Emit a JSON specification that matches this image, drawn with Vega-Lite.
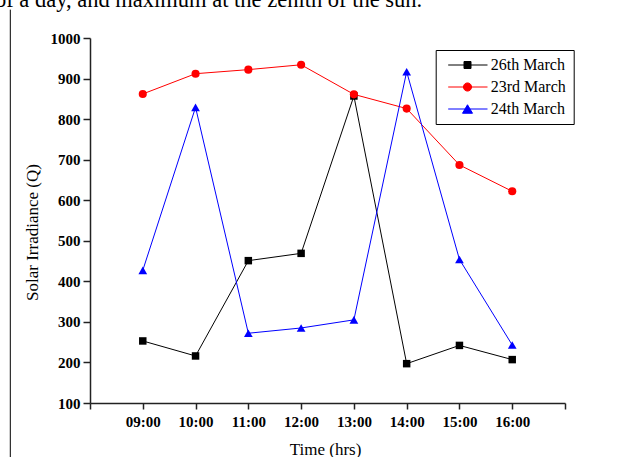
{
  "$schema": "https://vega.github.io/schema/vega-lite/v6.json",
  "width": 475,
  "height": 365,
  "autosize": {"type": "none"},
  "padding": {"left": 90, "top": 38, "right": 55, "bottom": 54},
  "background": "white",
  "config": {"view": {"stroke": null}, "font": "Liberation Serif"},
  "title": {
    "text": "of a day, and maximum at the zenith of the sun.",
    "anchor": "start",
    "frame": "group",
    "dx": -95,
    "dy": 21,
    "offset": 1,
    "baseline": "alphabetic",
    "font": "Liberation Serif",
    "fontSize": 22.5,
    "fontWeight": "normal",
    "color": "black"
  },
  "data": {
    "values": [
      {"time": 9, "irr": 253, "series": "26th March"},
      {"time": 10, "irr": 216, "series": "26th March"},
      {"time": 11, "irr": 451, "series": "26th March"},
      {"time": 12, "irr": 469, "series": "26th March"},
      {"time": 13, "irr": 857, "series": "26th March"},
      {"time": 14, "irr": 197, "series": "26th March"},
      {"time": 15, "irr": 242, "series": "26th March"},
      {"time": 16, "irr": 207, "series": "26th March"},
      {"time": 9, "irr": 862, "series": "23rd March"},
      {"time": 10, "irr": 912, "series": "23rd March"},
      {"time": 11, "irr": 922, "series": "23rd March"},
      {"time": 12, "irr": 934, "series": "23rd March"},
      {"time": 13, "irr": 861, "series": "23rd March"},
      {"time": 14, "irr": 826, "series": "23rd March"},
      {"time": 15, "irr": 687, "series": "23rd March"},
      {"time": 16, "irr": 622, "series": "23rd March"},
      {"time": 9, "irr": 427, "series": "24th March"},
      {"time": 10, "irr": 829, "series": "24th March"},
      {"time": 11, "irr": 272, "series": "24th March"},
      {"time": 12, "irr": 285, "series": "24th March"},
      {"time": 13, "irr": 305, "series": "24th March"},
      {"time": 14, "irr": 917, "series": "24th March"},
      {"time": 15, "irr": 454, "series": "24th March"},
      {"time": 16, "irr": 243, "series": "24th March"}
    ]
  },
  "layer": [
    {
      "mark": {"type": "line", "strokeWidth": 1},
      "encoding": {
        "x": {
          "field": "time",
          "type": "quantitative",
          "title": "Time (hrs)",
          "scale": {"domain": [8, 17], "nice": false, "zero": false},
          "axis": {
            "values": [8, 8.5, 9, 9.5, 10, 10.5, 11, 11.5, 12, 12.5, 13, 13.5, 14, 14.5, 15, 15.5, 16, 16.5, 17],
            "labelExpr": "datum.value >= 9 && datum.value <= 16 && datum.value % 1 == 0 ? (datum.value < 10 ? '0' : '') + datum.value + ':00' : ''",
            "tickSize": {"expr": "datum.value % 1 == 0 ? 6 : 3"},
            "labelFont": "Liberation Serif",
            "labelFontWeight": "bold",
            "labelFontSize": 15,
            "labelColor": "black",
            "labelPadding": 5,
            "labelFlush": false,
            "labelOverlap": false,
            "domainColor": "#222222",
            "domainWidth": 1.5,
            "tickColor": "#222222",
            "tickWidth": 1.5,
            "grid": false,
            "titleFont": "Liberation Serif",
            "titleFontSize": 17,
            "titleFontWeight": "normal",
            "titleColor": "black",
            "titleX": 235,
            "titleY": 51,
            "titleAlign": "center",
            "titleBaseline": "alphabetic"
          }
        },
        "y": {
          "field": "irr",
          "type": "quantitative",
          "title": "Solar Irradiance (Q)",
          "scale": {"domain": [100, 1000], "nice": false, "zero": false},
          "axis": {
            "values": [100, 150, 200, 250, 300, 350, 400, 450, 500, 550, 600, 650, 700, 750, 800, 850, 900, 950, 1000],
            "labelExpr": "datum.value % 100 == 0 ? datum.label : ''",
            "tickSize": {"expr": "datum.value % 100 == 0 ? 7 : 3.5"},
            "format": "d",
            "labelFont": "Liberation Serif",
            "labelFontWeight": "bold",
            "labelFontSize": 15,
            "labelColor": "black",
            "labelPadding": 3,
            "labelFlush": false,
            "labelOverlap": false,
            "domainColor": "#222222",
            "domainWidth": 1.5,
            "tickColor": "#222222",
            "tickWidth": 1.5,
            "grid": false,
            "titleFont": "Liberation Serif",
            "titleFontSize": 17,
            "titleFontWeight": "normal",
            "titleColor": "black",
            "titleAngle": -90,
            "titleX": -58,
            "titleY": 194,
            "titleAlign": "center",
            "titleBaseline": "middle"
          }
        },
        "color": {
          "field": "series",
          "type": "nominal",
          "sort": ["26th March", "23rd March", "24th March"],
          "scale": {"range": ["#000000", "#FF0000", "#0000FF"]},
          "legend": {
            "title": null,
            "orient": "none",
            "legendX": 345.7,
            "legendY": 12,
            "strokeColor": "black",
            "fillColor": "white",
            "padding": 7,
            "labelFont": "Liberation Serif",
            "labelFontSize": 16,
            "labelColor": "black",
            "labelOffset": 32,
            "symbolSize": 100,
            "symbolStrokeWidth": 1,
            "symbolOpacity": 1,
            "rowPadding": 6,
            "encode": {
              "symbols": {
                "update": {
                  "shape": {"signal": "datum.value === '26th March' ? 'M-0.5,0H7.36M2.66,-0.7H4.06V0.7H2.66Z' : datum.value === '23rd March' ? 'M-0.5,0H7.36M4.18,0A0.82,0.82 0 1,1 2.54,0A0.82,0.82 0 1,1 4.18,0Z' : 'M-0.5,0H7.36M3.36,-0.85L4.36,0.85H2.36Z'"},
                  "fill": {"signal": "datum.value === '26th March' ? '#000000' : datum.value === '23rd March' ? '#FF0000' : '#0000FF'"},
                  "stroke": {"signal": "datum.value === '26th March' ? '#000000' : datum.value === '23rd March' ? '#FF0000' : '#0000FF'"}
                }
              }
            }
          }
        }
      }
    },
    {
      "mark": {"type": "point", "filled": true, "opacity": 1},
      "encoding": {
        "x": {"field": "time", "type": "quantitative", "title": "Time (hrs)"},
        "y": {"field": "irr", "type": "quantitative", "title": "Solar Irradiance (Q)"},
        "color": {"field": "series", "type": "nominal", "sort": ["26th March", "23rd March", "24th March"]},
        "shape": {
          "field": "series",
          "type": "nominal",
          "scale": {"domain": ["26th March", "23rd March", "24th March"], "range": ["square", "circle", "triangle-up"]},
          "legend": null
        },
        "size": {
          "field": "series",
          "type": "nominal",
          "scale": {"domain": ["26th March", "23rd March", "24th March"], "range": [56, 76, 110]},
          "legend": null
        }
      }
    },
    {
      "data": {"values": [{}]},
      "mark": {"type": "rule", "color": "black", "strokeWidth": 1},
      "encoding": {
        "x": {"datum": 6.49, "type": "quantitative", "title": "Time (hrs)"},
        "y": {"datum": 1070, "type": "quantitative", "title": "Solar Irradiance (Q)"},
        "y2": {"datum": -40}
      }
    }
  ]
}
